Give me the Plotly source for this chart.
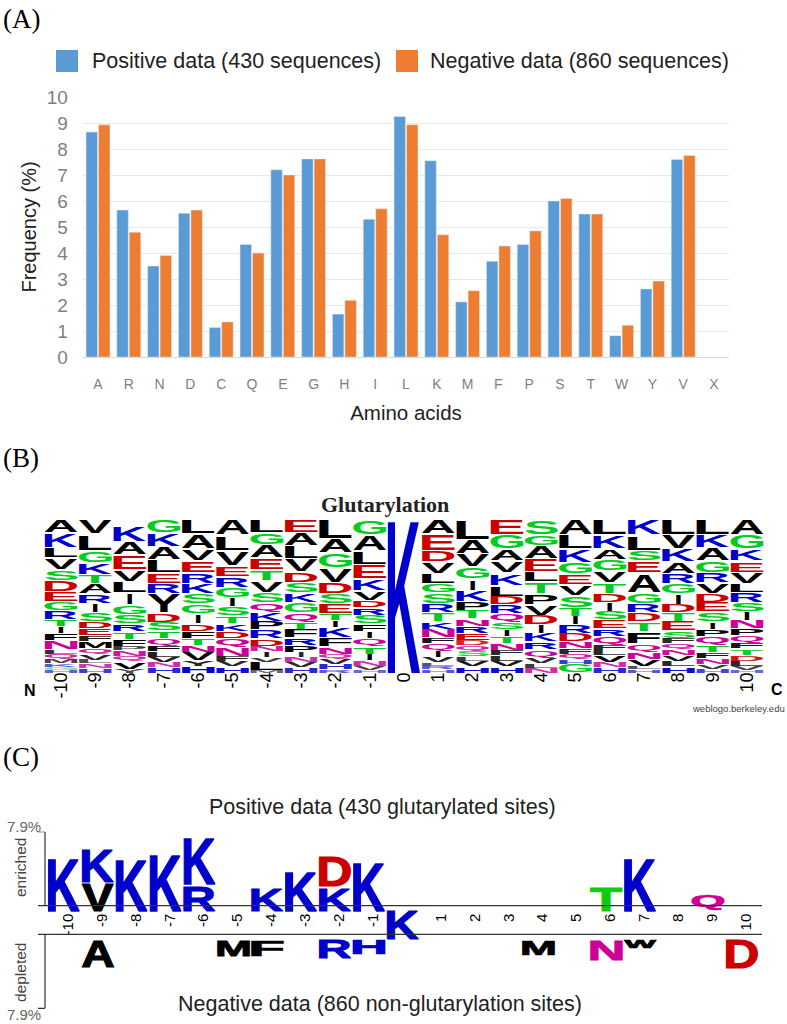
import plotly.graph_objects as go

W, H = 787, 1024

# ---------- Panel A data ----------
AMINO_ACIDS = list("ARNDCQEGHILKMFPSTWYVX")
POSITIVE_FREQ = [8.65, 5.65, 3.5, 5.53, 1.13, 4.33, 7.2, 7.62, 1.65, 5.3, 9.25, 7.55, 2.12, 3.68, 4.33, 6.0, 5.5, 0.82, 2.62, 7.6, None]
NEGATIVE_FREQ = [8.93, 4.8, 3.9, 5.65, 1.35, 4.0, 7.0, 7.62, 2.18, 5.7, 8.93, 4.7, 2.55, 4.27, 4.85, 6.1, 5.5, 1.22, 2.92, 7.75, None]
POSITIVE_NAME = "Positive data (430 sequences)"
NEGATIVE_NAME = "Negative data (860 sequences)"

# ---------- Panel B data (stack order is top to bottom, heights are relative) ----------
B_POSITIONS = list(range(-10, 11))
B_LETTERS = [
    "AKLVSDEGRTIFNLQMKGH", "VLGKTARISDEFMQVLNH", "KAEVLIGSRTFPNQVY", "GKALERYDSTQFLVNH",
    "LAVERKSGIDFTNVYH", "ALVERGISTKDQNFVH", "LGAETVSQKPRDNIVLM", "EALVDSKGQTFRPINVH",
    "LAGVDSETIKFNQVHR", "GALEKVDRSFIQTINVH", "K",
    "AEDVLGSRTKNFQIVLRH", "LAVGIKPTNREDQSLVH", "EGAVKLDRQSITNFLVH", "SGAELTPVDIKRQVLN",
    "ALKGEVSTIRDNFQHG", "LKAGVTDISERQFLVNH", "KLSEAGRDTFQNVLH", "LVKARGIDTESFQNVLH",
    "LKAGRVDESIPQTFNVH", "AGKEVLRSINPQFTDLVH",
]
B_HEIGHTS = [
    [40, 43, 31, 34, 31, 32, 30, 26, 25, 21, 20, 21, 25, 14, 16, 12, 10, 8, 9],
    [45, 48, 35, 35, 25, 30, 27, 28, 25, 20, 22, 16, 22, 17, 15, 11, 14, 13],
    [46, 37, 45, 35, 33, 34, 28, 27, 23, 22, 20, 13, 17, 15, 22, 11],
    [40, 40, 38, 38, 32, 30, 58, 26, 24, 22, 20, 18, 16, 16, 15, 15],
    [43, 45, 35, 35, 30, 30, 30, 28, 27, 23, 22, 20, 20, 25, 15, 20],
    [48, 45, 43, 32, 32, 30, 26, 24, 23, 23, 22, 25, 27, 15, 15, 18],
    [40, 36, 37, 35, 32, 35, 30, 25, 28, 25, 25, 22, 16, 17, 13, 24, 8],
    [40, 38, 37, 38, 31, 31, 28, 30, 27, 21, 25, 22, 20, 15, 15, 15, 15],
    [58, 42, 44, 42, 32, 30, 28, 20, 20, 30, 27, 20, 15, 15, 15, 10],
    [46, 47, 40, 43, 34, 26, 22, 22, 26, 20, 22, 22, 23, 20, 15, 12, 8],
    [448],
    [43, 50, 32, 33, 30, 27, 31, 27, 25, 23, 25, 17, 20, 20, 15, 10, 10, 10],
    [61, 42, 37, 36, 32, 33, 25, 25, 22, 20, 20, 15, 16, 16, 13, 17, 18],
    [46, 42, 35, 35, 35, 32, 25, 25, 25, 23, 20, 20, 20, 15, 15, 17, 18],
    [46, 32, 38, 37, 30, 35, 32, 30, 28, 24, 26, 23, 24, 15, 13, 15],
    [46, 42, 40, 33, 30, 32, 35, 25, 25, 25, 25, 20, 15, 17, 13, 25],
    [46, 40, 32, 34, 33, 31, 27, 25, 25, 27, 23, 25, 15, 15, 20, 15, 15],
    [48, 45, 30, 35, 57, 31, 27, 27, 28, 35, 23, 22, 20, 10, 10],
    [46, 42, 37, 33, 30, 30, 30, 25, 25, 28, 22, 15, 17, 18, 17, 15, 18],
    [46, 37, 40, 35, 28, 30, 27, 28, 27, 23, 22, 25, 20, 17, 18, 13, 12],
    [46, 42, 35, 32, 33, 27, 28, 27, 26, 24, 20, 21, 17, 18, 17, 15, 12, 8],
]

# ---------- Panel C data (percent; stacks listed top to bottom) ----------
C_UP_POS = [-10, -9, -8, -7, -6, -4, -3, -2, -1, 6, 7, 9]
C_UP_LETTERS = ["K", "KV", "K", "K", "KR", "K", "K", "DK", "K", "T", "K", "Q"]
C_UP_VALUES = [[5.5], [3.5, 2.8], [5.4], [6.0], [4.8, 2.6], [2.3], [4.2], [3.2, 2.3], [5.1], [2.55], [5.5], [1.6]]
C_DOWN_POS = [-9, -5, -4, -2, -1, 4, 6, 7, 10]
C_DOWN_LETTERS = ["A", "M", "F", "R", "H", "M", "N", "W", "D"]
C_DOWN_VALUES = [2.75, 1.65, 1.6, 1.85, 1.45, 1.5, 2.0, 0.75, 2.95]
C_CENTRE_LETTER = "K"
C_TICKS = [p for p in range(-10, 11) if p != 0]
C_LIMIT = 7.9
C_BAND = 3.06

BLUE, RED, GREEN, MAGENTA, BLACK = "#0000cc", "#cc0000", "#00cc22", "#cc0099", "#000000"
LETTER_COLOR = {"K": BLUE, "R": BLUE, "H": BLUE, "D": RED, "E": RED, "G": GREEN, "S": GREEN,
                "T": GREEN, "N": MAGENTA, "Q": MAGENTA}
C_GREEN = "#10cc10"


def fx(px):
    return px / W


def fy(py):
    return 1 - py / H


fig = go.Figure()

# ---------- Panel A ----------
fig.add_bar(x=AMINO_ACIDS, y=POSITIVE_FREQ, name=POSITIVE_NAME, marker_color="#5b9bd5", xaxis="x", yaxis="y")
fig.add_bar(x=AMINO_ACIDS, y=NEGATIVE_FREQ, name=NEGATIVE_NAME, marker_color="#ed7d31", xaxis="x", yaxis="y")

# ---------- Panel B ----------
bx, by, bt, bc, bd = [], [], [], [], []
B_WIDTH = 0.96
B_I_WIDTH = 0.14  # an I keeps its narrow stem in the logo
B_FILL = 0.86  # part of each stack slot the glyph fills; the rest is the white gap between letters
for pos, letters, heights in zip(B_POSITIONS, B_LETTERS, B_HEIGHTS):
    level = 0
    for letter, h in zip(reversed(letters), reversed(heights)):
        bx.append(pos)
        by.append(level + h / 2)
        bt.append(letter)
        bc.append(LETTER_COLOR.get(letter, BLACK))
        bd.append([B_I_WIDTH if letter == "I" else B_WIDTH, h * B_FILL if h < 400 else h,
                   min(1.0, 0.3 + h / 28), 0])
        level += h
fig.add_scatter(x=bx, y=by, text=bt, customdata=bd, mode="text", textfont=dict(color=bc, size=20),
                xaxis="x2", yaxis="y2", cliponaxis=False, showlegend=False)

# ---------- Panel C ----------
C_OFFSET = -0.12
C_WIDTH = 0.93
C_GAP = 0.3
C_LEAD = 0.15
C_STROKE = 1.2
cx, cy, ct, cc, cd = [], [], [], [], []
def add_c(pos, letter, centre, h):
    cx.append(pos + C_OFFSET)
    cy.append(centre)
    ct.append(letter)
    cc.append(C_GREEN if letter == "T" else LETTER_COLOR.get(letter, BLACK))
    cd.append([C_WIDTH, h, 1.0, C_STROKE])

for pos, letters, values in zip(C_UP_POS, C_UP_LETTERS, C_UP_VALUES):
    level = 0
    for letter, h in zip(reversed(letters), reversed(values)):
        add_c(pos, letter, level + h / 2, h)
        level += h + C_GAP
for pos, letter, h in zip(C_DOWN_POS, C_DOWN_LETTERS, C_DOWN_VALUES):
    add_c(pos, letter, -C_BAND - C_LEAD - h / 2, h)
add_c(0, C_CENTRE_LETTER, -C_BAND / 2, C_BAND)
fig.add_scatter(x=cx, y=cy, text=ct, customdata=cd, mode="text", textfont=dict(color=cc, size=20),
                xaxis="x3", yaxis="y3", cliponaxis=False, showlegend=False)

# ---------- Annotations ----------
def note(text, x, y, size, family="Liberation Sans", color="#000000", angle=0, anchor="center"):
    return dict(text=text, x=fx(x), y=fy(y), xref="paper", yref="paper", showarrow=False,
                font=dict(size=size, family=family, color=color), textangle=angle,
                xanchor=anchor, yanchor="middle")

SERIF = "Liberation Serif"
annotations = [
    note("(A)", 1, 19, 27, SERIF, anchor="left"),
    note("(B)", 1, 458, 27, SERIF, anchor="left"),
    note("(C)", 1, 757, 27, SERIF, anchor="left"),
    note(POSITIVE_NAME, 90, 61, 21.5, anchor="left", color="#222222"),
    note(NEGATIVE_NAME, 428, 61, 21.5, anchor="left", color="#222222"),
    note("<b>Glutarylation</b>", 385, 504, 22, SERIF, color="#222222"),
    note("<b>N</b>", 30, 690, 16),
    note("<b>C</b>", 777, 689, 16),
    note("weblogo.berkeley.edu", 738, 708, 9.5, color="#444444"),
    note("Positive data (430 glutarylated sites)", 382, 807, 21.5, color="#222222"),
    note("Negative data (860 non-glutarylation sites)", 380, 1004, 21.5, color="#222222"),
    note("7.9%", 24, 826, 15, color="#666666"),
    note("7.9%", 24, 1014, 15, color="#666666"),
    note("enriched", 20, 868, 15.5, color="#444444", angle=-90),
    note("depleted", 20, 973, 15.5, color="#444444", angle=-90),
]

LINE = dict(color="#333333", width=1.2)

shapes = [
    dict(type="rect", xref="paper", yref="paper", x0=fx(56), x1=fx(78), y0=fy(50), y1=fy(72),
         fillcolor="#5b9bd5", line_width=0),
    dict(type="rect", xref="paper", yref="paper", x0=fx(396), x1=fx(418), y0=fy(50), y1=fy(72),
         fillcolor="#ed7d31", line_width=0),
    dict(type="line", xref="paper", yref="y3", x0=fx(38), x1=fx(762), y0=0, y1=0, line=LINE),
    dict(type="line", xref="paper", yref="y3", x0=fx(38), x1=fx(762), y0=-C_BAND, y1=-C_BAND, line=LINE),
    dict(type="line", xref="paper", yref="y3", x0=fx(45), x1=fx(45), y0=0, y1=C_LIMIT, line=LINE),
    dict(type="line", xref="paper", yref="y3", x0=fx(38), x1=fx(45), y0=C_LIMIT, y1=C_LIMIT, line=LINE),
    dict(type="line", xref="paper", yref="y3", x0=fx(45), x1=fx(45), y0=-C_BAND, y1=-C_BAND - C_LIMIT, line=LINE),
    dict(type="line", xref="paper", yref="y3", x0=fx(38), x1=fx(45), y0=-C_BAND - C_LIMIT, y1=-C_BAND - C_LIMIT, line=LINE),
]

BASE = "Liberation Sans"
fig.update_layout(
    width=W, height=H, autosize=False, margin=dict(l=0, r=0, t=0, b=0),
    paper_bgcolor="white", plot_bgcolor="white", showlegend=False, hovermode=False,
    barmode="group", bargap=0.19, bargroupgap=0.08,
    annotations=annotations, shapes=shapes,
    font=dict(family=BASE),
    xaxis=dict(domain=[fx(82.6), fx(729.4)], anchor="y", type="category", showgrid=False, automargin=False,
               categoryorder="array", categoryarray=AMINO_ACIDS,
               showline=True, linecolor="#d9d9d9", linewidth=1, ticks="outside", ticklen=14,
               tickcolor="rgba(0,0,0,0)", tickfont=dict(size=14, color="#7f7f7f"),
               title=dict(text="Amino acids", font=dict(size=20.5, color="#222222"), standoff=14)),
    yaxis=dict(domain=[fy(357), fy(97)], anchor="x", range=[0, 10], dtick=1, gridcolor="#e8e8e8", gridwidth=1,
               automargin=False, zeroline=False, showline=False, ticks="outside", ticklen=10,
               tickcolor="rgba(0,0,0,0)", tickfont=dict(size=19, color="#7f7f7f"),
               title=dict(text="Frequency (%)", font=dict(size=20, color="#222222"), standoff=4)),
    xaxis2=dict(domain=[0, 1], anchor="y2", range=[-404 / 34.3, (W - 404) / 34.3], showgrid=False, zeroline=False,
                automargin=False, tickmode="array", tickvals=B_POSITIONS, ticktext=[str(p) for p in B_POSITIONS],
                tickangle=-90, ticks="", tickfont=dict(size=18, color="#000000")),
    yaxis2=dict(domain=[fy(668), fy(514)], anchor="x2", range=[0, 448], visible=False, automargin=False),
    xaxis3=dict(domain=[0, 1], anchor="free", position=fy(905.7), range=[-407 / 33.9, (W - 407) / 33.9],
                showgrid=False, zeroline=False, automargin=False, tickmode="array", tickvals=C_TICKS,
                ticktext=[str(p) for p in C_TICKS], tickangle=-90, ticks="outside", ticklen=1,
                tickcolor="rgba(0,0,0,0)", tickfont=dict(size=15, color="#000000")),
    yaxis3=dict(domain=[fy(1009.3), fy(831.7)], anchor="x3", range=[-C_BAND - 8.0, C_LIMIT], visible=False,
                automargin=False),
)

# Stretch each logo letter so that its glyph fills the box its height value defines on the axes.
POST = """
document.body.style.margin = '0';
var gd = document.querySelector('.plotly-graph-div');
var ctx = document.createElement('canvas').getContext('2d');
ctx.font = 'bold 100px "Liberation Sans"';
gd.querySelectorAll('.scatterlayer .trace').forEach(function (tr) {
  var cdata = tr.__data__;
  if (!cdata || !cdata[0] || !cdata[0].trace.customdata) return;
  var t = cdata[0].trace;
  var plot = gd._fullLayout._plots[t.xaxis + t.yaxis];
  var xa = plot.xaxis, ya = plot.yaxis;
  tr.querySelectorAll('.textpoint').forEach(function (g, i) {
    var d = g.__data__, c = t.customdata[i], el = g.querySelector('text');
    var m = ctx.measureText(t.text[i]);
    var gl = -m.actualBoundingBoxLeft, gr = m.actualBoundingBoxRight;
    var gt = -m.actualBoundingBoxAscent, gb = m.actualBoundingBoxDescent;
    var x0 = xa.c2p(d.x - c[0] / 2), x1 = xa.c2p(d.x + c[0] / 2);
    var y0 = ya.c2p(d.y) - Math.abs(ya.c2p(c[1] / 2) - ya.c2p(0)), y1 = 2 * ya.c2p(d.y) - y0;
    var sx = (x1 - x0) / (gr - gl), sy = (y1 - y0) / (gb - gt);
    el.setAttribute('x', 0); el.setAttribute('y', 0);
    el.setAttribute('text-anchor', 'start');
    el.style.fontFamily = '"Liberation Sans"';
    el.style.fontWeight = 'bold';
    el.style.fontSize = '100px';
    el.style.opacity = c[2];
    el.style.textShadow = 'none';
    if (c[3]) {
      el.style.stroke = t.textfont.color[i];
      el.style.strokeWidth = (c[3] * 2 / (sx + sy)) + 'px';
    }
    el.setAttribute('transform', 'translate(' + (x0 - gl * sx) + ',' + (y0 - gt * sy) + ') scale(' + sx + ',' + sy + ')');
  });
});
"""

fig.write_html("out.html", post_script=POST, config={"displayModeBar": False})
